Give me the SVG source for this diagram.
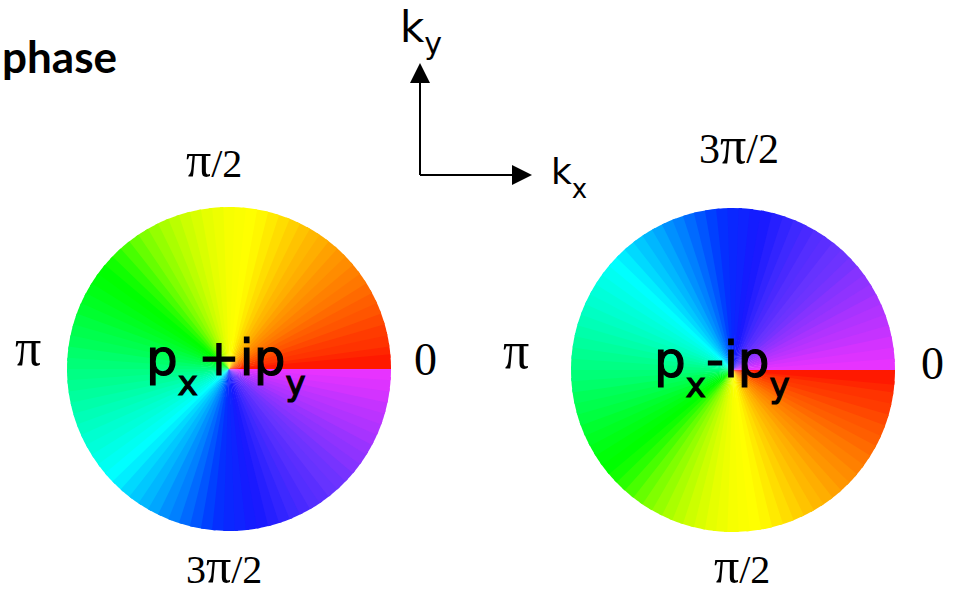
<svg xmlns="http://www.w3.org/2000/svg" width="956" height="595" viewBox="0 0 956 595">
<style>
.serif{font-family:"Liberation Serif","Times New Roman",serif;fill:#000}
.sans{font-family:"DejaVu Sans","Liberation Sans",sans-serif;fill:#000}
.math{font-family:"DejaVu Sans","Liberation Sans",sans-serif;fill:#000;stroke:#000;stroke-width:1.2}
.ax{stroke:#000;stroke-width:2;fill:none}
</style>
<defs>
<marker id="arr" viewBox="0 0 20 20" refX="0" refY="10" markerWidth="20" markerHeight="20" markerUnits="userSpaceOnUse" orient="auto">
<path d="M0 0L20 10L0 20Z" fill="#000"/>
</marker>
<path id="w" d="M0 0H162A162 162 0 0 0 161.33 -14.68Z"/>
<g id="wheel">
<use href="#w" transform="rotate(-4)" fill="hsl(9,100%,50%)"/>
<use href="#w" transform="rotate(-8)" fill="hsl(12,100%,50%)"/>
<use href="#w" transform="rotate(-12)" fill="hsl(14,100%,50%)"/>
<use href="#w" transform="rotate(-16)" fill="hsl(17,100%,50%)"/>
<use href="#w" transform="rotate(-20)" fill="hsl(20,100%,50%)"/>
<use href="#w" transform="rotate(-24)" fill="hsl(22,100%,50%)"/>
<use href="#w" transform="rotate(-28)" fill="hsl(25,100%,50%)"/>
<use href="#w" transform="rotate(-32)" fill="hsl(28,100%,50%)"/>
<use href="#w" transform="rotate(-36)" fill="hsl(30,100%,50%)"/>
<use href="#w" transform="rotate(-40)" fill="hsl(33,100%,50%)"/>
<use href="#w" transform="rotate(-44)" fill="hsl(35,100%,50%)"/>
<use href="#w" transform="rotate(-48)" fill="hsl(38,100%,50%)"/>
<use href="#w" transform="rotate(-52)" fill="hsl(41,100%,50%)"/>
<use href="#w" transform="rotate(-56)" fill="hsl(43,100%,50%)"/>
<use href="#w" transform="rotate(-60)" fill="hsl(46,100%,50%)"/>
<use href="#w" transform="rotate(-64)" fill="hsl(49,100%,50%)"/>
<use href="#w" transform="rotate(-68)" fill="hsl(52,100%,50%)"/>
<use href="#w" transform="rotate(-72)" fill="hsl(55,100%,50%)"/>
<use href="#w" transform="rotate(-76)" fill="hsl(58,100%,50%)"/>
<use href="#w" transform="rotate(-80)" fill="hsl(60,100%,50%)"/>
<use href="#w" transform="rotate(-84)" fill="hsl(61,100%,50%)"/>
<use href="#w" transform="rotate(-88)" fill="hsl(62,100%,50%)"/>
<use href="#w" transform="rotate(-92)" fill="hsl(64,100%,50%)"/>
<use href="#w" transform="rotate(-96)" fill="hsl(66,100%,50%)"/>
<use href="#w" transform="rotate(-100)" fill="hsl(69,100%,50%)"/>
<use href="#w" transform="rotate(-104)" fill="hsl(72,100%,50%)"/>
<use href="#w" transform="rotate(-108)" fill="hsl(76,100%,50%)"/>
<use href="#w" transform="rotate(-112)" fill="hsl(80,100%,50%)"/>
<use href="#w" transform="rotate(-116)" fill="hsl(85,100%,50%)"/>
<use href="#w" transform="rotate(-120)" fill="hsl(90,100%,50%)"/>
<use href="#w" transform="rotate(-124)" fill="hsl(96,100%,50%)"/>
<use href="#w" transform="rotate(-128)" fill="hsl(103,100%,50%)"/>
<use href="#w" transform="rotate(-132)" fill="hsl(110,100%,50%)"/>
<use href="#w" transform="rotate(-136)" fill="hsl(116,100%,50%)"/>
<use href="#w" transform="rotate(-140)" fill="hsl(120,100%,50%)"/>
<use href="#w" transform="rotate(-144)" fill="hsl(122,100%,50%)"/>
<use href="#w" transform="rotate(-148)" fill="hsl(125,100%,50%)"/>
<use href="#w" transform="rotate(-152)" fill="hsl(128,100%,50%)"/>
<use href="#w" transform="rotate(-156)" fill="hsl(131,100%,50%)"/>
<use href="#w" transform="rotate(-160)" fill="hsl(135,100%,50%)"/>
<use href="#w" transform="rotate(-164)" fill="hsl(138,100%,50%)"/>
<use href="#w" transform="rotate(-168)" fill="hsl(141,100%,50%)"/>
<use href="#w" transform="rotate(-172)" fill="hsl(145,100%,50%)"/>
<use href="#w" transform="rotate(-176)" fill="hsl(148,100%,50%)"/>
<use href="#w" transform="rotate(-180)" fill="hsl(151,100%,50%)"/>
<use href="#w" transform="rotate(-184)" fill="hsl(154,100%,50%)"/>
<use href="#w" transform="rotate(-188)" fill="hsl(157,100%,50%)"/>
<use href="#w" transform="rotate(-192)" fill="hsl(160,100%,50%)"/>
<use href="#w" transform="rotate(-196)" fill="hsl(163,100%,50%)"/>
<use href="#w" transform="rotate(-200)" fill="hsl(166,100%,50%)"/>
<use href="#w" transform="rotate(-204)" fill="hsl(169,100%,50%)"/>
<use href="#w" transform="rotate(-208)" fill="hsl(171,100%,50%)"/>
<use href="#w" transform="rotate(-212)" fill="hsl(174,100%,50%)"/>
<use href="#w" transform="rotate(-216)" fill="hsl(177,100%,50%)"/>
<use href="#w" transform="rotate(-220)" fill="hsl(180,100%,50%)"/>
<use href="#w" transform="rotate(-224)" fill="hsl(184,100%,50%)"/>
<use href="#w" transform="rotate(-228)" fill="hsl(189,100%,50%)"/>
<use href="#w" transform="rotate(-232)" fill="hsl(193,100%,50%)"/>
<use href="#w" transform="rotate(-236)" fill="hsl(197,100%,50%)"/>
<use href="#w" transform="rotate(-240)" fill="hsl(201,100%,50%)"/>
<use href="#w" transform="rotate(-244)" fill="hsl(206,100%,50%)"/>
<use href="#w" transform="rotate(-248)" fill="hsl(210,100%,50%)"/>
<use href="#w" transform="rotate(-252)" fill="hsl(215,100%,50%)"/>
<use href="#w" transform="rotate(-256)" fill="hsl(220,100%,50%)"/>
<use href="#w" transform="rotate(-260)" fill="hsl(225,100%,50%)"/>
<use href="#w" transform="rotate(-264)" fill="hsl(230,100%,51%)"/>
<use href="#w" transform="rotate(-268)" fill="hsl(233,100%,52%)"/>
<use href="#w" transform="rotate(-272)" fill="hsl(235,100%,53%)"/>
<use href="#w" transform="rotate(-276)" fill="hsl(238,100%,54%)"/>
<use href="#w" transform="rotate(-280)" fill="hsl(240,100%,55%)"/>
<use href="#w" transform="rotate(-284)" fill="hsl(242,100%,56%)"/>
<use href="#w" transform="rotate(-288)" fill="hsl(244,100%,57%)"/>
<use href="#w" transform="rotate(-292)" fill="hsl(246,100%,58%)"/>
<use href="#w" transform="rotate(-296)" fill="hsl(249,100%,58%)"/>
<use href="#w" transform="rotate(-300)" fill="hsl(251,100%,59%)"/>
<use href="#w" transform="rotate(-304)" fill="hsl(253,100%,59%)"/>
<use href="#w" transform="rotate(-308)" fill="hsl(255,100%,60%)"/>
<use href="#w" transform="rotate(-312)" fill="hsl(257,100%,60%)"/>
<use href="#w" transform="rotate(-316)" fill="hsl(260,100%,60%)"/>
<use href="#w" transform="rotate(-320)" fill="hsl(264,100%,60%)"/>
<use href="#w" transform="rotate(-324)" fill="hsl(267,100%,60%)"/>
<use href="#w" transform="rotate(-328)" fill="hsl(270,100%,60%)"/>
<use href="#w" transform="rotate(-332)" fill="hsl(274,100%,60%)"/>
<use href="#w" transform="rotate(-336)" fill="hsl(277,100%,60%)"/>
<use href="#w" transform="rotate(-340)" fill="hsl(280,100%,60%)"/>
<use href="#w" transform="rotate(-344)" fill="hsl(283,100%,60%)"/>
<use href="#w" transform="rotate(-348)" fill="hsl(287,100%,60%)"/>
<use href="#w" transform="rotate(-352)" fill="hsl(290,100%,60%)"/>
<use href="#w" transform="rotate(-356)" fill="hsl(293,100%,60%)"/>
<use href="#w" fill="hsl(6,100%,50%)"/>
</g>
</defs>
<rect width="956" height="595" fill="#fff"/>
<text x="2" y="73" font-family="Lato,'DejaVu Sans',sans-serif" font-size="44" font-weight="bold" fill="#000">phase</text>
<g id="wheel-left">
<use href="#wheel" transform="translate(229,369)"/>
<text class="math" x="146" y="375" font-size="50">p<tspan font-size="34" dy="20">x</tspan><tspan dy="-20">+ip</tspan><tspan font-size="34" dy="20">y</tspan></text>
</g>
<g id="wheel-right">
<use href="#wheel" transform="translate(733,370) scale(1,-1)"/>
<text class="math" x="654" y="377" font-size="50">p<tspan font-size="34" dy="20">x</tspan><tspan dy="-20">-ip</tspan><tspan font-size="34" dy="20">y</tspan></text>
</g>
<g id="labels">
<text class="serif" x="186" y="177" font-size="40"><tspan font-size="50">π</tspan>/2</text>
<text class="serif" x="15" y="365" font-size="52">π</text>
<text class="serif" x="414" y="375" font-size="46">0</text>
<text class="serif" x="186" y="583" font-size="40">3<tspan font-size="50">π</tspan>/2</text>
<text class="serif" x="699" y="163" font-size="42">3<tspan font-size="52">π</tspan>/2</text>
<text class="serif" x="503" y="368" font-size="52">π</text>
<text class="serif" x="921" y="379" font-size="46">0</text>
<text class="serif" x="714" y="583" font-size="40"><tspan font-size="50">π</tspan>/2</text>
</g>
<g id="axis-labels">
<text class="sans" x="400" y="42" font-size="42">k<tspan font-size="30" dy="12">y</tspan></text>
<text class="sans" x="551" y="184" font-size="36">k<tspan font-size="26" dy="14">x</tspan></text>
</g>
<g id="connectors">
<path class="ax" d="M420 175V83" marker-end="url(#arr)"/>
<path class="ax" d="M420 175H512" marker-end="url(#arr)"/>
</g>
</svg>
